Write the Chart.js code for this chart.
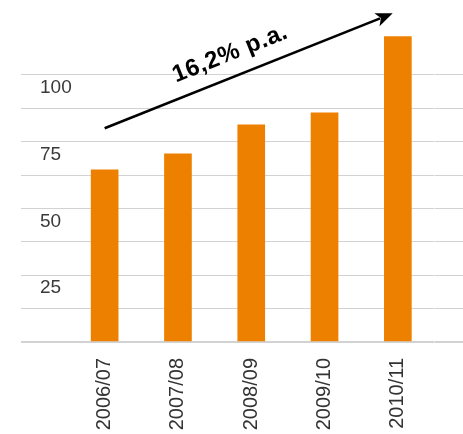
<!DOCTYPE html>
<html>
<head>
<meta charset="utf-8">
<script src="https://cdn.jsdelivr.net/npm/chart.js@4"></script>
<style>
  body { margin: 0; background: #fff; }
  #wrap { width: 463px; height: 434px; }
</style>
</head>
<body>
<div id="wrap"><canvas id="chart"></canvas></div>
<script>
// chart data
var categories = ['2006/07', '2007/08', '2008/09', '2009/10', '2010/11'];
var values = [64.4, 70.4, 81.3, 85.8, 114.3];
var yTickLabels = [25, 50, 75, 100];
var trendLabel = '16,2% p.a.';
// arrow start / end as [category index, value]
var trendFrom = [0, 80];
var trendTo = [3.93, 123];

var gridColor = function(c) {
  return c.tick.value > 100 ? 'rgba(0,0,0,0)' : '#d2d2d2';
};
var gridWidth = function(c) {
  return c.tick.value === 0 ? 2 : 1;
};

// draw the growth arrow and its label from the scales
var trendArrow = {
  id: 'trendArrow',
  afterDraw: function(chart) {
    var xs = chart.scales.x, ys = chart.scales.y, ctx = chart.ctx;
    var x1 = xs.getPixelForValue(trendFrom[0]), y1 = ys.getPixelForValue(trendFrom[1]);
    var x2 = xs.getPixelForValue(trendTo[0]), y2 = ys.getPixelForValue(trendTo[1]);
    var ang = Math.atan2(y2 - y1, x2 - x1);
    var head = 17, half = 7;

    ctx.save();
    ctx.strokeStyle = '#000';
    ctx.fillStyle = '#000';
    ctx.lineWidth = 2.5;
    ctx.beginPath();
    ctx.moveTo(x1, y1);
    ctx.lineTo(x2 - Math.cos(ang) * head * 0.8, y2 - Math.sin(ang) * head * 0.8);
    ctx.stroke();

    ctx.translate(x2, y2);
    ctx.rotate(ang);
    ctx.beginPath();
    ctx.moveTo(0, 0);
    ctx.lineTo(-head, -half);
    ctx.lineTo(-head * 0.75, 0);
    ctx.lineTo(-head, half);
    ctx.closePath();
    ctx.fill();
    ctx.restore();

    // label along the arrow
    var t = 0.465;
    var mx = x1 + (x2 - x1) * t, my = y1 + (y2 - y1) * t;
    ctx.save();
    ctx.translate(mx, my);
    ctx.rotate(ang);
    ctx.font = 'bold 24px "Liberation Sans", Arial, sans-serif';
    ctx.letterSpacing = '0.6px';
    ctx.textAlign = 'center';
    ctx.textBaseline = 'alphabetic';
    ctx.fillStyle = '#000';
    ctx.fillText(trendLabel, 0, -16);
    ctx.restore();
  }
};

var ctx = document.getElementById('chart');
var myChart = new Chart(ctx, {
  type: 'bar',
  data: {
    labels: categories,
    datasets: [{
      data: values,
      backgroundColor: '#ee8000',
      borderWidth: 0,
      barThickness: 27
    }]
  },
  options: {
    responsive: true,
    maintainAspectRatio: false,
    animation: false,
    devicePixelRatio: 1,
    layout: { padding: { left: 40, right: 0, top: 8, bottom: 0 } },
    plugins: {
      legend: { display: false },
      tooltip: { enabled: false }
    },
    scales: {
      x: {
        grid: { display: false },
        border: { display: false },
        ticks: {
          minRotation: 90,
          maxRotation: 90,
          autoSkip: false,
          padding: 8,
          color: '#333',
          font: { family: '"Liberation Sans", Arial, sans-serif', size: 20 }
        },
        afterFit: function(s) { s.height = 92; }
      },
      y: {
        position: 'left',
        min: 0,
        max: 125,
        border: { display: false },
        grid: {
          color: gridColor,
          lineWidth: gridWidth,
          drawTicks: true,
          tickLength: 47
        },
        ticks: {
          stepSize: 12.5,
          mirror: true,
          padding: -28,
          labelOffset: 13,
          color: '#3a3a3a',
          font: { family: '"Liberation Sans", Arial, sans-serif', size: 19 },
          callback: function(v) {
            return yTickLabels.indexOf(v) >= 0 ? String(v) : '';
          }
        },
        afterFit: function(s) { s.width = 28; }
      },
      y2: {
        position: 'right',
        min: 0,
        max: 125,
        border: { display: false },
        grid: {
          color: gridColor,
          lineWidth: gridWidth,
          drawOnChartArea: false,
          drawTicks: true,
          tickLength: 29
        },
        ticks: { stepSize: 12.5, display: false },
        afterFit: function(s) { s.width = 28.5; }
      }
    }
  },
  plugins: [trendArrow]
});
</script>
</body>
</html>
